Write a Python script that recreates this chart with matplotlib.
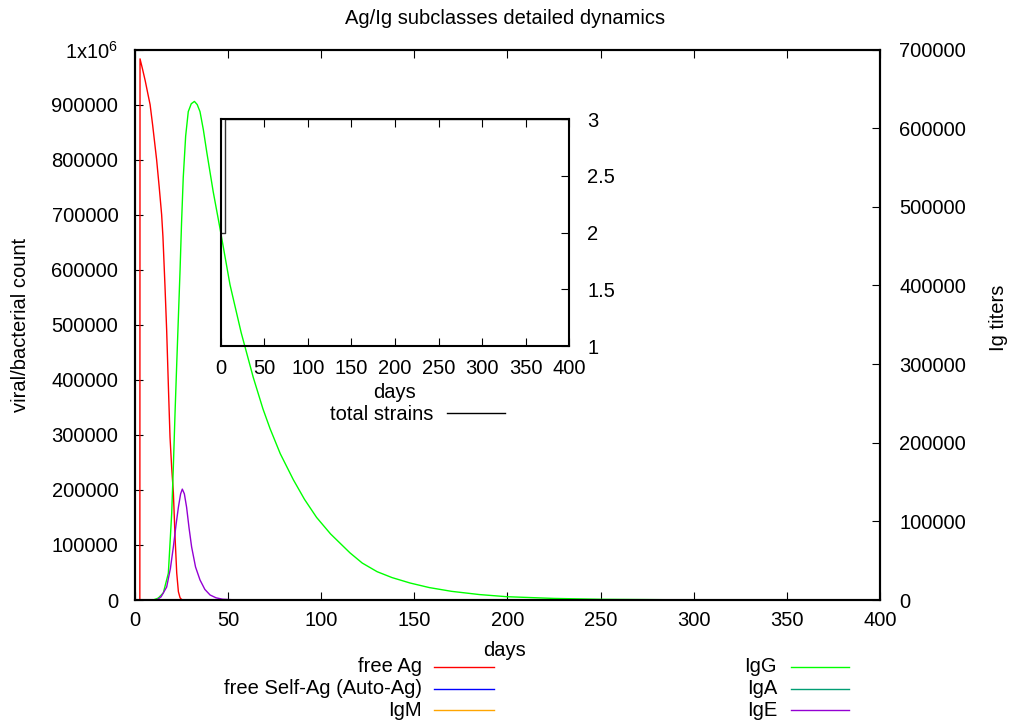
import matplotlib
matplotlib.use("Agg")
import matplotlib.pyplot as plt
from matplotlib.lines import Line2D
from matplotlib.ticker import FuncFormatter, MultipleLocator

plt.rcParams["font.family"] = ["Liberation Sans", "DejaVu Sans"]

W, H = 1011, 723
FS = 14.5

# free antigen (left axis)
ag_days = [0, 2.6, 2.7, 4, 5.5, 7, 8.1, 9.5, 11.6, 13, 14.3, 15.0, 16.1, 17, 18, 18.8, 19.7,
           20.6, 21.5, 22.4, 23.3, 24.2, 25, 26, 400]
ag_vals = [0, 0, 983000, 965000, 943000, 918000, 900000, 862000, 800000, 750000, 700000, 660000,
           570000, 490000, 380000, 296000, 240000, 195000, 115000, 49000, 15000, 4000, 1000, 0, 0]

# self antigen, IgM, IgA stay at zero over the run
zero_days = [0, 400]
zero_vals = [0, 0]

# IgG (right axis)
igg_days = [0, 9.8, 12.5, 15.2, 17.9, 19.7, 20.6, 21.5, 22.4, 23.3, 24.2, 25.0, 25.9, 27.2,
            28.6, 30.2, 31.9, 33.4, 34.9, 36.7, 38.5, 42, 45.6, 51, 57, 63.5, 68.7, 72.5, 78, 85,
            91, 97.5, 105, 115.4, 122, 130, 138, 147.7, 158, 170, 185, 199.6, 225, 250, 300, 400]
igg_vals = [0, 0, 2500, 9000, 34000, 110000, 170000, 238000, 300000, 360000, 420000, 480000,
            537000, 590000, 621000, 631000, 634000, 630000, 621000, 598000, 570000, 519000,
            473000, 401000, 340000, 283000, 243000, 218000, 186000, 153000, 128000, 105000,
            84000, 60000, 47000, 36000, 28500, 21600, 15800, 11000, 6900, 4200, 2000, 900, 150, 0]

# IgE (right axis)
ige_days = [0, 11.6, 14, 17, 19, 20.6, 22, 23.3, 24.5, 25.4, 26.5, 27.7, 29, 30.4, 32.5, 34.9,
            37.5, 40.3, 43.5, 47, 55, 400]
ige_vals = [0, 0, 4000, 16500, 40000, 67500, 95000, 118000, 135000, 141000, 135000, 118000,
            92000, 67500, 42000, 25500, 13500, 6400, 2800, 1000, 0, 0]

# inset: number of strains
strain_days = [0, 4.7, 400]
strain_counts = [2, 3, 3]

series_names = ["free Ag", "free Self-Ag (Auto-Ag)", "IgM", "IgG", "IgA", "IgE"]
series_colors = ["#ff0000", "#0000ff", "#ffa500", "#00ff00", "#009e73", "#9400d3"]

fig = plt.figure(figsize=(W / 100, H / 100), dpi=100)
ax = fig.add_axes([135 / W, 1 - 600 / H, 745 / W, 550.5 / H])
ax2 = ax.twinx()

ax.plot(ag_days, ag_vals, color=series_colors[0], lw=1.0)
ax.plot(zero_days, zero_vals, color=series_colors[1], lw=1.0)
ax2.plot(zero_days, zero_vals, color=series_colors[2], lw=1.0)
ax2.plot(igg_days, igg_vals, color=series_colors[3], lw=1.0)
ax2.plot(zero_days, zero_vals, color=series_colors[4], lw=1.0)
ax2.plot(ige_days, ige_vals, color=series_colors[5], lw=1.0)

ax.set_xlim(0, 400)
ax.set_ylim(0, 1e6)
ax2.set_ylim(0, 700000)
ax.xaxis.set_major_locator(MultipleLocator(50))
ax.yaxis.set_major_locator(MultipleLocator(100000))
ax2.yaxis.set_major_locator(MultipleLocator(100000))


def left_fmt(v, pos):
    if v >= 1e6:
        return r"1x10$^{\mathregular{6}}$"
    return f"{int(round(v))}"


ax.yaxis.set_major_formatter(FuncFormatter(left_fmt))
ax2.yaxis.set_major_formatter(FuncFormatter(lambda v, p: f"{int(round(v))}"))

ax.tick_params(axis="x", direction="in", length=6, top=True, labelsize=FS, pad=8)
ax.tick_params(axis="y", direction="in", length=6, labelsize=FS, pad=12)
ax2.tick_params(axis="y", direction="in", length=6, labelsize=FS, pad=14)
for a in (ax, ax2):
    for s in a.spines.values():
        s.set_linewidth(1.5)

fig.text(505 / W, 1 - 18 / H, "Ag/Ig subclasses detailed dynamics", ha="center", va="center",
         fontsize=FS)
fig.text(505 / W, 1 - 651 / H, "days", ha="center", va="center", fontsize=FS)
fig.text(21 / W, 1 - 325 / H, "viral/bacterial count", ha="center", va="center",
         rotation=90, fontsize=FS)
fig.text(999 / W, 1 - 318 / H, "Ig titers", ha="center", va="center", rotation=90,
         fontsize=FS)

# legend under the plot, gnuplot style (label right-aligned, sample after it)
col_text_x = [422, 777]
col_line_x = [(434, 494), (791, 849)]
row_y = [667, 689, 710]
for i, (name, col) in enumerate(zip(series_names, series_colors)):
    c, r = divmod(i, 3)
    y = 1 - row_y[r] / H
    fig.text(col_text_x[c] / W, y, name, ha="right", va="center", fontsize=FS)
    x0, x1 = col_line_x[c]
    fig.add_artist(Line2D([x0 / W, x1 / W], [y, y], color=col, lw=1.0,
                          transform=fig.transFigure))

# inset
ins = fig.add_axes([220.7 / W, 1 - 346 / H, 348.6 / W, 226.7 / H])
ins.set_facecolor("none")
ins.plot(strain_days, strain_counts, color="#333333", lw=1.0, drawstyle="steps-post")
ins.set_xlim(0, 400)
ins.set_ylim(1, 3)
ins.xaxis.set_major_locator(MultipleLocator(50))
ins.yaxis.set_major_locator(MultipleLocator(0.5))
ins.yaxis.set_major_formatter(FuncFormatter(lambda v, p: f"{v:g}"))
ins.yaxis.tick_right()
ins.tick_params(axis="x", direction="in", length=6, top=True, labelsize=FS, pad=9)
ins.tick_params(axis="y", direction="in", length=6, labelsize=FS, pad=13)
for s in ins.spines.values():
    s.set_linewidth(1.5)
fig.text(395 / W, 1 - 393 / H, "days", ha="center", va="center", fontsize=FS)
fig.text(433 / W, 1 - 414 / H, "total strains", ha="right", va="center", fontsize=FS)
fig.add_artist(Line2D([447 / W, 505 / W], [1 - 413 / H, 1 - 413 / H], color="black", lw=1.0,
                      transform=fig.transFigure))

fig.savefig("out.png", dpi=100)
